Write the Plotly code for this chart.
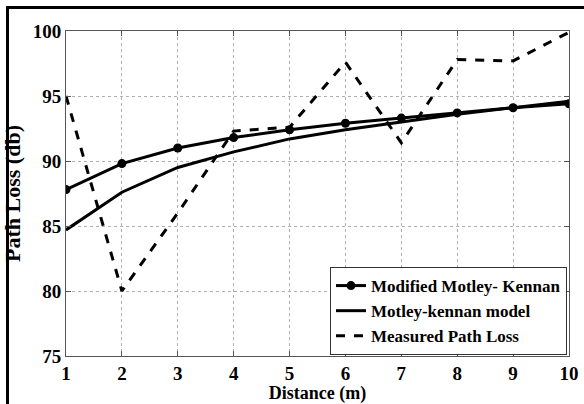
import plotly.graph_objects as go

distance = [1, 2, 3, 4, 5, 6, 7, 8, 9, 10]
modified_mk = [87.8, 89.8, 91.0, 91.8, 92.4, 92.9, 93.3, 93.7, 94.1, 94.4]
motley_kennan = [84.7, 87.6, 89.5, 90.7, 91.7, 92.4, 93.0, 93.6, 94.1, 94.6]
measured = [95.0, 80.0, 86.0, 92.3, 92.6, 97.6, 91.4, 97.8, 97.7, 99.9]

x_ticks = [1, 2, 3, 4, 5, 6, 7, 8, 9, 10]
y_ticks = [75, 80, 85, 90, 95, 100]

FONT = "Liberation Serif"

fig = go.Figure()
fig.add_trace(go.Scatter(
    x=distance, y=modified_mk, mode="lines+markers",
    name="<b>Modified Motley- Kennan</b>",
    line=dict(color="black", width=3),
    marker=dict(color="black", size=9, symbol="circle"),
))
fig.add_trace(go.Scatter(
    x=distance, y=motley_kennan, mode="lines",
    name="<b>Motley-kennan model</b>",
    line=dict(color="black", width=3),
))
fig.add_trace(go.Scatter(
    x=distance, y=measured, mode="lines",
    name="<b>Measured Path Loss</b>",
    line=dict(color="black", width=3, dash="dash"),
))

axis_common = dict(
    showgrid=True, gridcolor="#b0b0b0", griddash="dot", gridwidth=1,
    showline=True, linecolor="#555555", linewidth=1, mirror="ticks",
    ticks="inside", ticklen=5, tickcolor="#555555",
    zeroline=False, automargin=False,
    tickfont=dict(family=FONT, size=19, color="black"),
)

fig.update_xaxes(
    range=[1, 10], tickvals=x_ticks, ticktext=[f"<b>{v}</b>" for v in x_ticks],
    title=dict(text="<b>Distance (m)</b>", font=dict(family=FONT, size=18, color="black"), standoff=0),
    **axis_common,
)
fig.update_yaxes(
    range=[75, 100], tickvals=y_ticks, ticktext=[f"<b>{v}</b>" for v in y_ticks],
    title=dict(text="<b>Path Loss (db)</b>", font=dict(family=FONT, size=22, color="black"), standoff=12),
    **axis_common,
)

# outer frame: left edge as a shape
fig.add_shape(type="rect", xref="paper", yref="paper", layer="above",
              x0=(6 - 66) / 503, x1=(9 - 66) / 503,
              y0=(356 - 410) / 325, y1=(356 - 6) / 325,
              line=dict(width=0), fillcolor="black")
# outer frame: top edge as a thin black annotation bar
fig.add_annotation(
    xref="paper", yref="paper", x=(6 - 66) / 503, y=(356 - 6) / 325,
    xanchor="left", yanchor="top", text=" ", showarrow=False,
    width=600, height=1, bgcolor="black", borderpad=1, borderwidth=0,
    font=dict(size=1),
)

fig.update_layout(
    width=584, height=404,
    margin=dict(l=66, r=15, t=31, b=48),
    paper_bgcolor="white", plot_bgcolor="white",
    font=dict(family=FONT, color="black"),
    showlegend=True,
    legend=dict(
        x=0.996, y=0.003, xanchor="right", yanchor="bottom",
        bgcolor="white", bordercolor="#333333", borderwidth=1,
        font=dict(family=FONT, size=17, color="black"),
        itemwidth=30, tracegroupgap=0,
    ),
)

fig.write_html("out.html", config={"displayModeBar": False},
               post_script="document.body.style.margin='0';")
